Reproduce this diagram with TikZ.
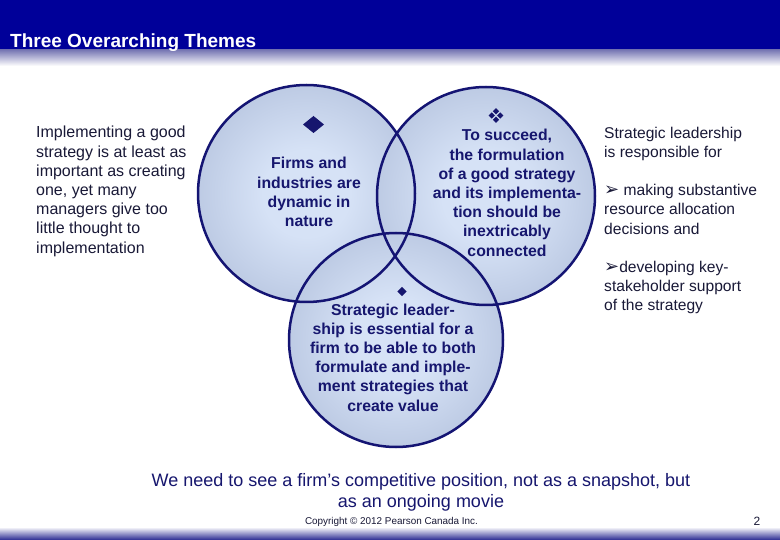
\documentclass[tikz,border=0pt]{standalone}
\usepackage{fontspec}
\setmainfont{Liberation Sans}
\newfontfamily\dejavu{DejaVu Sans}
\definecolor{hdrblue}{RGB}{0,0,153}
\definecolor{hdrfade}{RGB}{120,120,180}
\definecolor{botblue}{RGB}{40,40,145}
\definecolor{navy}{RGB}{22,22,110}
\definecolor{ringc}{RGB}{20,20,115}
\definecolor{vlight}{RGB}{214,226,246}
\definecolor{vdark}{RGB}{148,164,198}
\definecolor{bodytxt}{RGB}{25,25,55}
\pgfdeclareradialshading{venn}{\pgfpoint{0bp}{0bp}}{color(0bp)=(vlight); color(10bp)=(vlight); color(50bp)=(vdark)}
\tikzset{
  ring/.style={draw=ringc, line width=2.5pt},
  circtxt/.style={anchor=base, align=center, text=navy, inner sep=0pt,
    font=\bfseries\fontsize{15.8}{19.2}\selectfont},
  sidetxt/.style={anchor=base west, align=left, text=bodytxt, inner sep=0pt},
  sym/.style={fill=navy},
}
\newcommand{\arrowbul}{{\dejavu\fontsize{18}{19.2}\selectfont ➢}}
\begin{document}
\begin{tikzpicture}[x=1pt,y=-1pt]
\useasboundingbox (0,0) rectangle (780,540);
\fill[white] (0,0) rectangle (780,540);
% header
\fill[hdrblue] (0,0) rectangle (780,50);
\shade[top color=hdrfade, bottom color=white] (0,50) rectangle (780,66);
\node[anchor=base west, text=white, inner sep=0pt, font=\bfseries\fontsize{19}{20}\selectfont] (title) at (10,47.5) {Three Overarching Themes};
% bottom bar
\shade[top color=white, bottom color=botblue] (0,527) rectangle (780,540);
% circles
\coordinate (cl) at (306.5,193.5);
\coordinate (cr) at (486,196);
\coordinate (cb) at (396,340);
\shade[shading=venn] (cl) circle (108.5);
\shade[shading=venn] (cr) circle (109);
\shade[shading=venn] (cb) circle (107);
\draw[ring] (cl) circle (108.5);
\draw[ring] (cr) circle (109);
\draw[ring] (cb) circle (107);
% symbols
\fill[sym] (313.5,116) -- (324,124.5) -- (313.5,133) -- (303,124.5) -- cycle;
\foreach \dx/\dy in {0/-4.3, 0/4.3, -4.3/0, 4.3/0}{
  \fill[sym] (496+\dx,115.5+\dy) ++(0,-3.1) -- ++(3.1,3.1) -- ++(-3.1,3.1) -- ++(-3.1,-3.1) -- cycle;
}
\fill[sym] (402,286.8) -- (406.7,291.5) -- (402,296.2) -- (397.3,291.5) -- cycle;
% circle texts (anchor base = last line)
\node[circtxt] (tl) at (309,226.6) {Firms and\\industries are\\dynamic in\\nature};
\node[circtxt] (tr) at (507,256.2) {To succeed,\\the formulation\\of a good strategy\\and its implementa-\\tion should be\\inextricably\\connected};
\node[circtxt] (tb) at (393,411) {Strategic leader-\\ship is essential for a\\firm to be able to both\\formulate and imple-\\ment strategies that\\create value};
% side texts
\node[sidetxt, font=\fontsize{16}{19.2}\selectfont] (left) at (36,253.2) {Implementing a good\\strategy is at least as\\important as creating\\one, yet many\\managers give too\\little thought to\\implementation};
\node[sidetxt, font=\fontsize{15.6}{19.2}\selectfont] (right) at (604,310.8) {Strategic leadership\\is responsible for\\[19.2pt]\arrowbul{} making substantive\\resource allocation\\decisions and\\[19.2pt]\arrowbul{}developing key-\\stakeholder support\\of the strategy};
% bottom texts
\node[anchor=base, align=center, text=navy, inner sep=0pt, font=\fontsize{18}{20.5}\selectfont] (movie) at (421,507) {We need to see a firm’s competitive position, not as a snapshot, but\\as an ongoing movie};
\node[anchor=base, inner sep=0pt, text=bodytxt, font=\fontsize{9.9}{11}\selectfont] (copy) at (391.5,524) {Copyright © 2012 Pearson Canada Inc.};
\node[anchor=base, inner sep=0pt, text=bodytxt, font=\fontsize{12}{14}\selectfont] (page) at (757,525) {2};
\end{tikzpicture}
\end{document}
